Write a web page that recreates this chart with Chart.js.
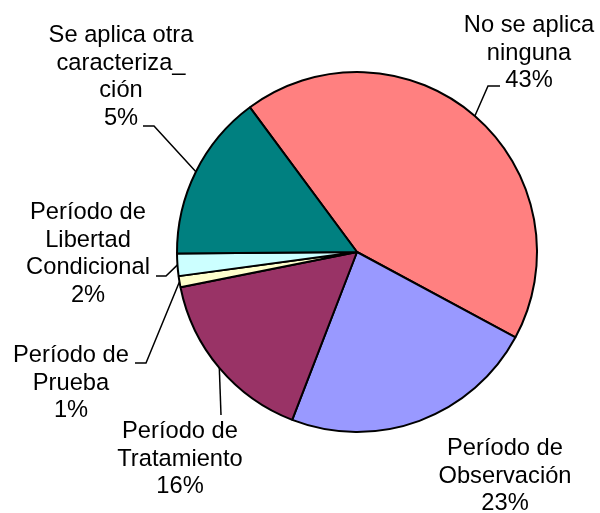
<!DOCTYPE html>
<html>
<head>
<meta charset="utf-8">
<script src="https://cdn.jsdelivr.net/npm/chart.js@4/dist/chart.umd.min.js"></script>
<style>
  html, body { margin: 0; padding: 0; background: #fff; }
</style>
</head>
<body>
<canvas id="pie_chart" width="600" height="513"></canvas>
<script>
// slice data, clockwise from the red slice
const categories = ['No se aplica ninguna', 'Período de Observación', 'Período de Tratamiento',
    'Período de Prueba', 'Período de Libertad Condicional', 'Se aplica otra caracterización'];
const values = [43, 23, 16, 1, 2, 15];
// percentages as printed on the chart
const pctLabels = ['43%', '23%', '16%', '1%', '2%', '5%'];
// how each category name is wrapped in its label
const nameLines = [
    ['No se aplica', 'ninguna'],
    ['Período de', 'Observación'],
    ['Período de', 'Tratamiento'],
    ['Período de', 'Prueba'],
    ['Período de', 'Libertad', 'Condicional'],
    ['Se aplica otra', 'caracteriza_', 'ción']
];
const colors = ['#FF8080', '#9999FF', '#993366', '#FFFFCC', '#CCFFFF', '#008080'];

/** where each label sits: text centre x, first baseline y, and the leader elbow/end */
const labelLayout = [
    { x: 529, y: 32, leader: [[488, 86], [500, 86]] },
    { x: 505, y: 455, leader: null },
    { x: 180, y: 438, leader: [[221, 415]] },
    { x: 71, y: 362, leader: [[146, 363], [135, 363]] },
    { x: 88, y: 219, leader: [[166, 276], [156, 276]] },
    { x: 121, y: 42, leader: [[154, 126], [143, 126]] }
];
const lineHeight = 27.5;

const outsideLabels = {
    id: 'outsideLabels',
    afterDatasetsDraw(chart) {
        const ctx = chart.ctx;
        const arcs = chart.getDatasetMeta(0).data;
        ctx.save();
        ctx.font = '23.7px "Liberation Sans", Arial, sans-serif';
        ctx.fillStyle = '#000';
        ctx.textAlign = 'center';
        ctx.textBaseline = 'alphabetic';
        ctx.strokeStyle = '#000';
        ctx.lineWidth = 1.5;
        arcs.forEach((arc, i) => {
            const lay = labelLayout[i];
            const lines = nameLines[i].concat([pctLabels[i]]);
            lines.forEach((t, k) => ctx.fillText(t, lay.x, lay.y + k * lineHeight));
            if (lay.leader) {
                const p = arc.getProps(['x', 'y', 'startAngle', 'endAngle', 'outerRadius'], true);
                const mid = (p.startAngle + p.endAngle) / 2;
                ctx.beginPath();
                ctx.moveTo(p.x + Math.cos(mid) * p.outerRadius, p.y + Math.sin(mid) * p.outerRadius);
                lay.leader.forEach(pt => ctx.lineTo(pt[0], pt[1]));
                ctx.stroke();
            }
        });
        ctx.restore();
    }
};

new Chart(document.getElementById('pie_chart'), {
    type: 'pie',
    data: {
        labels: categories,
        datasets: [{
            data: values,
            backgroundColor: colors,
            borderColor: '#000',
            borderWidth: 2
        }]
    },
    options: {
        responsive: false,
        animation: false,
        rotation: -36.5,
        layout: { padding: { left: 176, right: 62, top: 71, bottom: 80 } },
        plugins: {
            legend: { display: false },
            tooltip: { enabled: false }
        }
    },
    plugins: [outsideLabels]
});
</script>
</body>
</html>
